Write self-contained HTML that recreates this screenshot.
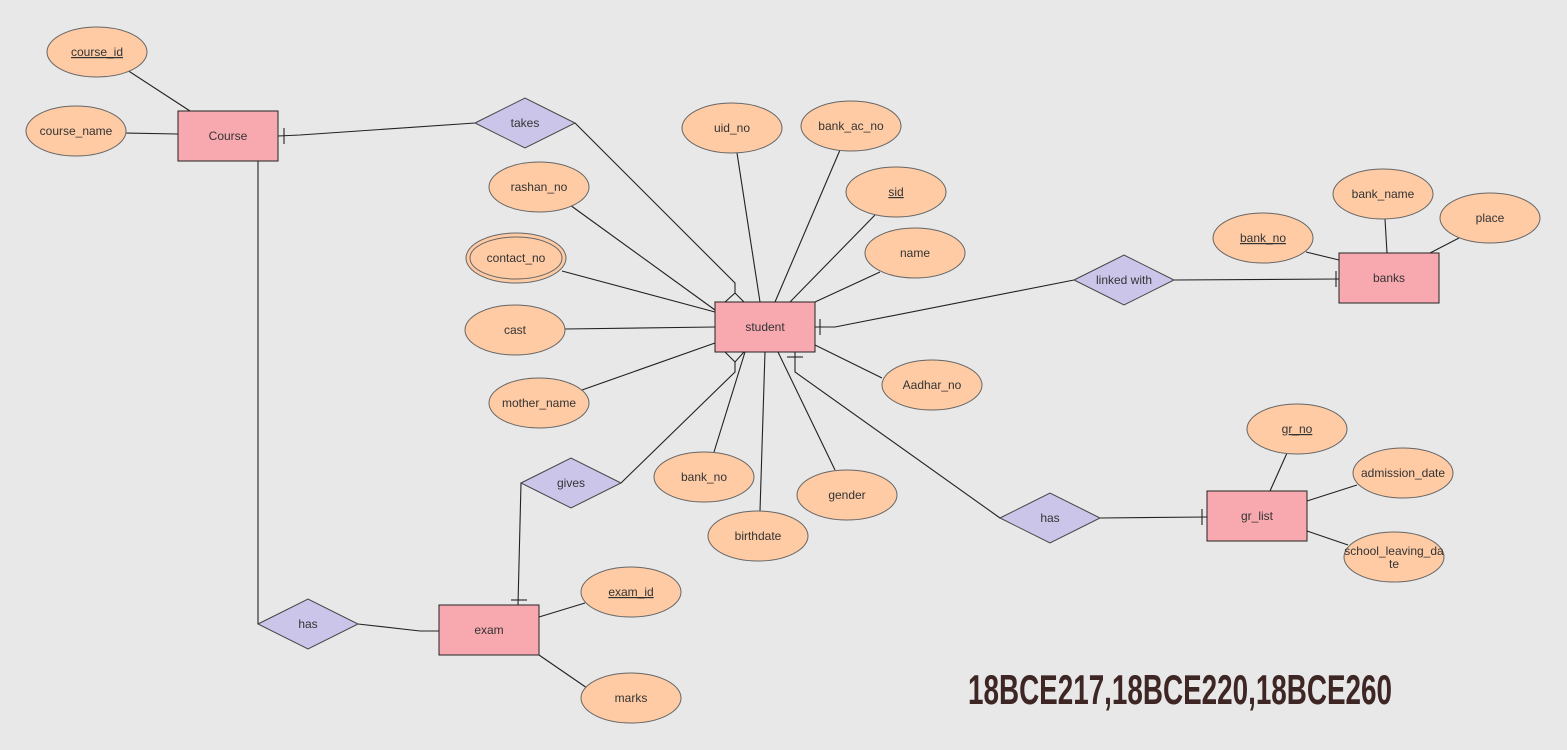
<!DOCTYPE html>
<html><head><meta charset="utf-8"><style>
html,body{margin:0;padding:0;background:#e8e8e8;}
svg{display:block;}
text{font-family:"Liberation Sans",Arial,sans-serif;font-size:12px;fill:#333;}
.e{fill:#ffcba4;stroke:#666;stroke-width:1;}
.r{fill:#f8a9b0;stroke:#222;stroke-width:1;}
.d{fill:#ccc5ea;stroke:#444;stroke-width:1;}
.l{stroke:#222;stroke-width:1.1;fill:none;}
</style></head><body>
<svg width="1567" height="750" viewBox="0 0 1567 750" xmlns="http://www.w3.org/2000/svg">
<rect width="1567" height="750" fill="#e8e8e8"/>
<!-- lines -->
<g class="l">
<line x1="127" y1="70" x2="190" y2="111"/>
<line x1="126" y1="133" x2="178" y2="134"/>
<polyline points="278,136 300,135 475,123"/>
<line x1="284" y1="128" x2="284" y2="144"/>
<polyline points="575,123 735,283 735,293"/>
<polyline points="725,302 735,293 744,302"/>
<line x1="258" y1="161" x2="258" y2="624"/>
<polyline points="358,624 420,631 439,631"/>
<polyline points="521,483 518,605"/>
<line x1="511" y1="600" x2="527" y2="600"/>
<polyline points="621,483 735,372 735,362"/>
<polyline points="725,352 735,362 744,352"/>
<polyline points="815,327 835,327 1074,280"/>
<line x1="820" y1="319" x2="820" y2="335"/>
<line x1="1174" y1="280" x2="1339" y2="279"/>
<line x1="1336" y1="271" x2="1336" y2="287"/>
<polyline points="795,352 795,372 1000,518"/>
<line x1="787" y1="357" x2="803" y2="357"/>
<line x1="1100" y1="518" x2="1207" y2="517"/>
<line x1="1202" y1="509" x2="1202" y2="525"/>
<line x1="737" y1="153" x2="760" y2="302"/>
<line x1="840" y1="150" x2="775" y2="302"/>
<line x1="875" y1="215" x2="790" y2="302"/>
<line x1="880" y1="272" x2="815" y2="302"/>
<line x1="570" y1="205" x2="715" y2="310"/>
<line x1="562" y1="271" x2="715" y2="312"/>
<line x1="565" y1="329" x2="715" y2="327"/>
<line x1="882" y1="378" x2="815" y2="345"/>
<line x1="582" y1="390" x2="715" y2="343"/>
<line x1="714" y1="452" x2="745" y2="352"/>
<line x1="835" y1="470" x2="778" y2="352"/>
<line x1="760" y1="511" x2="765" y2="352"/>
<line x1="1306" y1="252" x2="1339" y2="260"/>
<line x1="1385" y1="219" x2="1387" y2="253"/>
<line x1="1459" y1="238" x2="1430" y2="253"/>
<line x1="1287" y1="453" x2="1270" y2="491"/>
<line x1="1357" y1="485" x2="1307" y2="501"/>
<line x1="1348" y1="545" x2="1307" y2="531"/>
<line x1="585" y1="603" x2="539" y2="617"/>
<line x1="587" y1="688" x2="539" y2="655"/>
</g>
<!-- entities -->
<g>
<rect class="r" x="178" y="111" width="100" height="50"/><text x="228" y="140" text-anchor="middle">Course</text>
<rect class="r" x="715" y="302" width="100" height="50"/><text x="765" y="331" text-anchor="middle">student</text>
<rect class="r" x="1339" y="253" width="100" height="50"/><text x="1389" y="282" text-anchor="middle">banks</text>
<rect class="r" x="1207" y="491" width="100" height="50"/><text x="1257" y="520" text-anchor="middle">gr_list</text>
<rect class="r" x="439" y="605" width="100" height="50"/><text x="489" y="634" text-anchor="middle">exam</text>
</g>
<!-- relationships -->
<g>
<polygon class="d" points="475,123 525,98 575,123 525,148"/><text x="525" y="127" text-anchor="middle">takes</text>
<polygon class="d" points="1074,280 1124,255 1174,280 1124,305"/><text x="1124" y="284" text-anchor="middle">linked with</text>
<polygon class="d" points="521,483 571,458 621,483 571,508"/><text x="571" y="487" text-anchor="middle">gives</text>
<polygon class="d" points="1000,518 1050,493 1100,518 1050,543"/><text x="1050" y="522" text-anchor="middle">has</text>
<polygon class="d" points="258,624 308,599 358,624 308,649"/><text x="308" y="628" text-anchor="middle">has</text>
</g>
<!-- attributes -->
<g>
<ellipse class="e" cx="97" cy="52" rx="50" ry="25"/><text x="97" y="56" text-anchor="middle" text-decoration="underline">course_id</text>
<ellipse class="e" cx="76" cy="131" rx="50" ry="25"/><text x="76" y="135" text-anchor="middle">course_name</text>
<ellipse class="e" cx="732" cy="128" rx="50" ry="25"/><text x="732" y="132" text-anchor="middle">uid_no</text>
<ellipse class="e" cx="851" cy="126" rx="50" ry="25"/><text x="851" y="130" text-anchor="middle">bank_ac_no</text>
<ellipse class="e" cx="539" cy="187" rx="50" ry="25"/><text x="539" y="191" text-anchor="middle">rashan_no</text>
<ellipse class="e" cx="896" cy="192" rx="50" ry="25"/><text x="896" y="196" text-anchor="middle" text-decoration="underline">sid</text>
<ellipse class="e" cx="516" cy="258" rx="50" ry="25"/><ellipse class="e" cx="516" cy="258" rx="46" ry="21"/><text x="516" y="262" text-anchor="middle">contact_no</text>
<ellipse class="e" cx="915" cy="253" rx="50" ry="25"/><text x="915" y="257" text-anchor="middle">name</text>
<ellipse class="e" cx="515" cy="330" rx="50" ry="25"/><text x="515" y="334" text-anchor="middle">cast</text>
<ellipse class="e" cx="932" cy="385" rx="50" ry="25"/><text x="932" y="389" text-anchor="middle">Aadhar_no</text>
<ellipse class="e" cx="539" cy="403" rx="50" ry="25"/><text x="539" y="407" text-anchor="middle">mother_name</text>
<ellipse class="e" cx="704" cy="477" rx="50" ry="25"/><text x="704" y="481" text-anchor="middle">bank_no</text>
<ellipse class="e" cx="847" cy="495" rx="50" ry="25"/><text x="847" y="499" text-anchor="middle">gender</text>
<ellipse class="e" cx="758" cy="536" rx="50" ry="25"/><text x="758" y="540" text-anchor="middle">birthdate</text>
<ellipse class="e" cx="1263" cy="238" rx="50" ry="25"/><text x="1263" y="242" text-anchor="middle" text-decoration="underline">bank_no</text>
<ellipse class="e" cx="1383" cy="194" rx="50" ry="25"/><text x="1383" y="198" text-anchor="middle">bank_name</text>
<ellipse class="e" cx="1490" cy="218" rx="50" ry="25"/><text x="1490" y="222" text-anchor="middle">place</text>
<ellipse class="e" cx="1297" cy="429" rx="50" ry="25"/><text x="1297" y="433" text-anchor="middle" text-decoration="underline">gr_no</text>
<ellipse class="e" cx="1403" cy="473" rx="50" ry="25"/><text x="1403" y="477" text-anchor="middle">admission_date</text>
<ellipse class="e" cx="1394" cy="557" rx="50" ry="25"/><text x="1394" y="555" text-anchor="middle">school_leaving_da</text><text x="1394" y="568" text-anchor="middle">te</text>
<ellipse class="e" cx="631" cy="592" rx="50" ry="25"/><text x="631" y="596" text-anchor="middle" text-decoration="underline">exam_id</text>
<ellipse class="e" cx="631" cy="698" rx="50" ry="25"/><text x="631" y="702" text-anchor="middle">marks</text>
</g>
<text x="968" y="704" textLength="424" lengthAdjust="spacingAndGlyphs" style="font-family:'Liberation Sans Narrow','Liberation Sans',sans-serif;font-weight:bold;font-size:42px;fill:#3d2624;">18BCE217,18BCE220,18BCE260</text>
</svg>
</body></html>
